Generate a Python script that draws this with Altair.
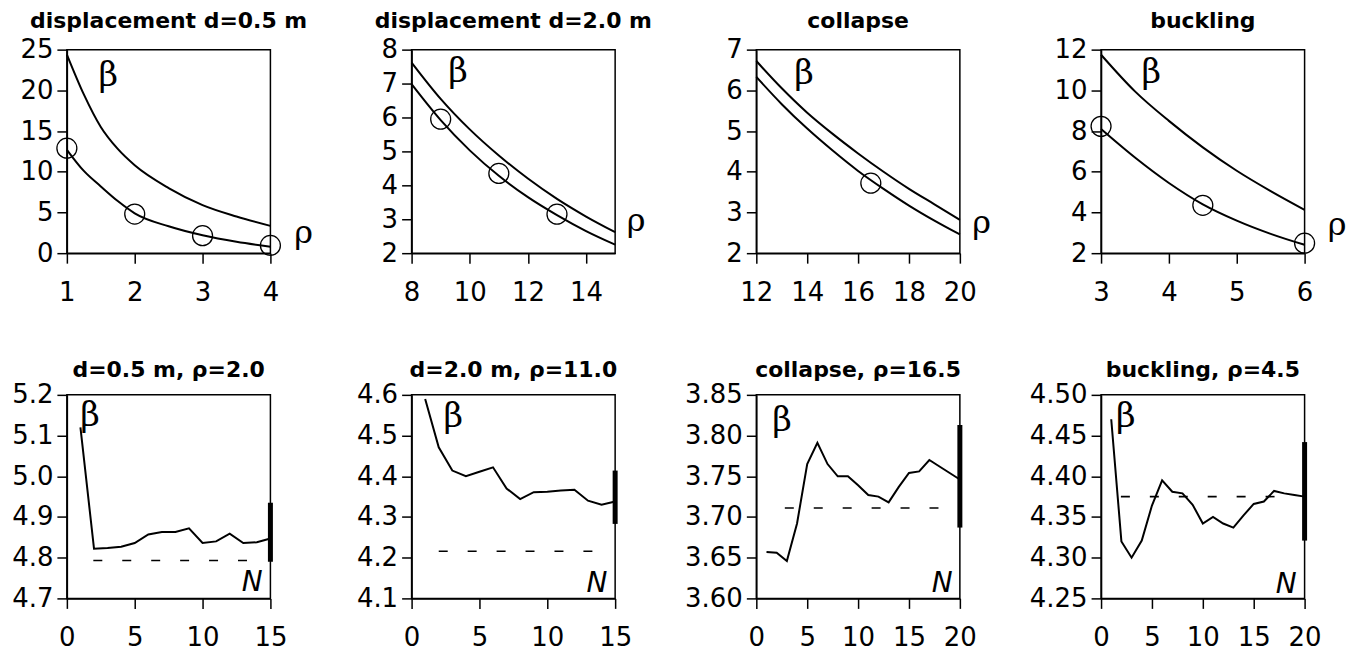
import altair as alt
import pandas as pd

SANS = "DejaVu Sans"
SERIF = "DejaVu Serif"

# ---------------- titles ----------------
titles_top = ["displacement d=0.5 m", "displacement d=2.0 m", "collapse", "buckling"]
titles_bottom = ["d=0.5 m, ρ=2.0", "d=2.0 m, ρ=11.0", "collapse, ρ=16.5", "buckling, ρ=4.5"]

# ---------------- top row: beta versus rho ----------------
p1_rho = [1.0, 1.25, 1.5, 1.75, 2.0, 2.5, 3.0, 3.5, 4.0]
p1_upper = [24.4, 19.5, 15.5, 12.8, 10.8, 8.0, 5.9, 4.5, 3.35]
p1_lower = [12.7, 10.1, 8.2, 6.4, 4.9, 3.3, 2.2, 1.4, 0.8]
p1_circ_rho = [1, 2, 3, 4]
p1_circ_beta = [12.9, 4.8, 2.15, 0.95]

p2_rho = [8, 9, 10, 11, 12, 13, 14, 15]
p2_upper = [7.62, 6.55, 5.65, 4.88, 4.2, 3.6, 3.08, 2.62]
p2_lower = [6.98, 5.92, 5.03, 4.28, 3.65, 3.12, 2.65, 2.25]
p2_circ_rho = [9, 11, 13]
p2_circ_beta = [5.95, 4.35, 3.15]

p3_rho = [12, 13, 14, 15, 16, 17, 18, 19, 20]
p3_upper = [6.72, 6.05, 5.45, 4.93, 4.45, 4.0, 3.58, 3.2, 2.82]
p3_lower = [6.33, 5.66, 5.06, 4.52, 4.02, 3.58, 3.17, 2.8, 2.46]
p3_circ_rho = [16.5]
p3_circ_beta = [3.72]

p4_rho = [3.0, 3.5, 4.0, 4.5, 5.0, 5.5, 6.0]
p4_upper = [11.75, 9.95, 8.5, 7.2, 6.05, 5.05, 4.13]
p4_lower = [8.1, 6.7, 5.45, 4.4, 3.6, 2.95, 2.41]
p4_circ_rho = [3, 4.5, 6]
p4_circ_beta = [8.23, 4.35, 2.49]

top_xdom = [[1, 4], [8, 15], [12, 20], [3, 6]]
top_ydom = [[0, 25], [2, 8], [2, 7], [2, 12]]
top_xticks = [[1, 2, 3, 4], [8, 10, 12, 14], [12, 14, 16, 18, 20], [3, 4, 5, 6]]
top_yticks = [[0, 5, 10, 15, 20, 25], [2, 3, 4, 5, 6, 7, 8], [2, 3, 4, 5, 6, 7], [2, 4, 6, 8, 10, 12]]
top_beta_pos = [(1.61, 21.7), (9.6, 7.35), (13.88, 6.4), (3.74, 10.87)]
top_rho_pos = [(4.49, 2.5), (15.72, 2.95), (20.86, 2.75), (6.48, 3.4)]

# ---------------- bottom row: beta versus N ----------------
p5_N = list(range(1, 16))
p5_beta = [5.12, 4.822, 4.824, 4.827, 4.836, 4.857, 4.863, 4.863, 4.872, 4.836,
           4.84, 4.859, 4.836, 4.838, 4.847]
p6_N = list(range(1, 16))
p6_beta = [4.59, 4.471, 4.414, 4.40, 4.411, 4.422, 4.37, 4.344, 4.361, 4.362,
           4.365, 4.367, 4.34, 4.33, 4.338]
p7_N = list(range(1, 21))
p7_beta = [3.657, 3.656, 3.646, 3.692, 3.765, 3.791, 3.765, 3.75, 3.75, 3.739,
           3.727, 3.725, 3.718, 3.737, 3.754, 3.756, 3.77, 3.762, 3.754, 3.746]
p8_N = list(range(1, 21))
p8_beta = [4.470, 4.320, 4.300, 4.321, 4.364, 4.395, 4.381, 4.379, 4.365, 4.342,
           4.35, 4.342, 4.337, 4.352, 4.366, 4.369, 4.382, 4.379, 4.377, 4.375]

ref_beta = [4.793, 4.216, 3.711, 4.375]
ref_from = [1.95, 2.0, 2.8, 1.95]
ref_to = [13.5, 13.7, 18.1, 17.9]
bar_N = [15, 15, 20, 20]
bar_lo = [4.79, 4.283, 3.687, 4.321]
bar_hi = [4.935, 4.414, 3.813, 4.442]

bot_xdom = [[0, 15], [0, 15], [0, 20], [0, 20]]
bot_ydom = [[4.7, 5.2], [4.1, 4.6], [3.6, 3.85], [4.25, 4.5]]
bot_xticks = [[0, 5, 10, 15], [0, 5, 10, 15], [0, 5, 10, 15, 20], [0, 5, 10, 15, 20]]
bot_yticks = [[4.7, 4.8, 4.9, 5.0, 5.1, 5.2], [4.1, 4.2, 4.3, 4.4, 4.5, 4.6],
              [3.60, 3.65, 3.70, 3.75, 3.80, 3.85], [4.25, 4.30, 4.35, 4.40, 4.45, 4.50]]
bot_yfmt = [".1f", ".1f", ".2f", ".2f"]
bot_beta_pos = [(1.7, 5.147), (3.07, 4.545), (2.52, 3.818), (2.44, 4.473)]
bot_N_pos = [(13.66, 4.738), (13.65, 4.135), (18.26, 3.618), (18.2, 4.266)]

W = 204
H = 204


def encodings(xdom, ydom, xticks, yticks, yfmt):
    x = alt.X("x:Q", scale=alt.Scale(domain=xdom, nice=False, zero=False),
              axis=alt.Axis(values=xticks, format="d"), title=None)
    y = alt.Y("y:Q", scale=alt.Scale(domain=ydom, nice=False, zero=False),
              axis=alt.Axis(values=yticks, format=yfmt), title=None)
    return x, y


def label_layer(pos, text, x, y, **kw):
    df = pd.DataFrame({"x": [pos[0]], "y": [pos[1]], "t": [text]})
    return alt.Chart(df).mark_text(color="black", align="center", baseline="middle", **kw).encode(
        x=x, y=y, text="t:N")


top_data = [
    (p1_rho, p1_upper, p1_lower, p1_circ_rho, p1_circ_beta),
    (p2_rho, p2_upper, p2_lower, p2_circ_rho, p2_circ_beta),
    (p3_rho, p3_upper, p3_lower, p3_circ_rho, p3_circ_beta),
    (p4_rho, p4_upper, p4_lower, p4_circ_rho, p4_circ_beta),
]
bot_data = [(p5_N, p5_beta), (p6_N, p6_beta), (p7_N, p7_beta), (p8_N, p8_beta)]

top_panels = []
for i, (xs, up, lo, cx, cy) in enumerate(top_data):
    x, y = encodings(top_xdom[i], top_ydom[i], top_xticks[i], top_yticks[i], "d")
    curves = pd.DataFrame({"x": xs + xs, "y": up + lo,
                           "curve": ["upper"] * len(xs) + ["lower"] * len(xs)})
    lines = alt.Chart(curves).mark_line(color="black", strokeWidth=2, interpolate="monotone").encode(
        x=x, y=y, detail="curve:N")
    pts = alt.Chart(pd.DataFrame({"x": cx, "y": cy})).mark_point(
        shape="circle", size=400, filled=False, color="black", strokeWidth=1.3, opacity=1).encode(x=x, y=y)
    beta = label_layer(top_beta_pos[i], "β", x, y, font=SERIF, fontSize=34)
    rho = label_layer(top_rho_pos[i], "ρ", x, y, font=SERIF, fontSize=32)
    top_panels.append(
        alt.layer(lines, pts, beta, rho).properties(
            width=W, height=H,
            title=alt.TitleParams(titles_top[i], font=SANS, fontSize=22, fontWeight="bold",
                                  color="black", offset=4, anchor="middle")))

bot_panels = []
for i, (ns, bs) in enumerate(bot_data):
    x, y = encodings(bot_xdom[i], bot_ydom[i], bot_xticks[i], bot_yticks[i], bot_yfmt[i])
    line = alt.Chart(pd.DataFrame({"x": ns, "y": bs})).mark_line(color="black", strokeWidth=2).encode(x=x, y=y)
    dash = alt.Chart(pd.DataFrame({"x": [ref_from[i]], "x2": [ref_to[i]], "y": [ref_beta[i]]})).mark_rule(
        color="black", strokeWidth=1.6, strokeDash=[9, 20]).encode(x=x, x2="x2:Q", y=y)
    bar = alt.Chart(pd.DataFrame({"x": [bar_N[i]], "y": [bar_lo[i]], "y2": [bar_hi[i]]})).mark_rule(
        color="black", strokeWidth=5).encode(x=x, y=y, y2="y2:Q")
    beta = label_layer(bot_beta_pos[i], "β", x, y, font=SERIF, fontSize=34)
    nlab = label_layer(bot_N_pos[i], "N", x, y, font=SANS, fontSize=28, fontStyle="italic")
    bot_panels.append(
        alt.layer(line, dash, bar, beta, nlab).properties(
            width=W, height=H,
            title=alt.TitleParams(titles_bottom[i], font=SANS, fontSize=22, fontWeight="bold",
                                  color="black", offset=0, anchor="middle")))

row1 = alt.hconcat(*top_panels, spacing=141.5, bounds="flush")
row2 = alt.hconcat(*bot_panels, spacing=141.5, bounds="flush")

chart = alt.vconcat(row1, row2, spacing=52).properties(
    padding={"left": 2, "top": 0, "right": 0, "bottom": 0},
    background="white",
).configure_view(
    stroke="black", strokeWidth=1.5
).configure_axis(
    domainColor="black", domainWidth=1.5, tickColor="black", tickWidth=1.5, tickSize=10,
    labelFont=SANS, labelFontSize=26, labelColor="black", grid=False,
    labelFlush=False, labelOverlap=False, labelBound=False,
).configure_axisX(
    labelPadding=16
).configure_axisY(
    labelPadding=4
)

chart.save("out.html", embed_options={"renderer": "svg", "actions": False})
